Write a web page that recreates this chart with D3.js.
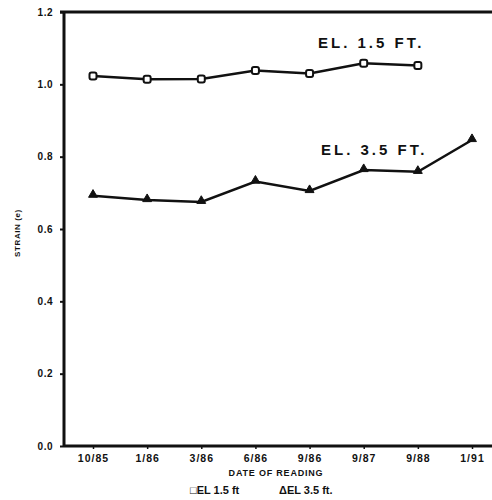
<!DOCTYPE html>
<meta charset="utf-8">
<head>
<title>Strain</title>
<style>
  body { margin: 0; background: #fff; }
  text { font-family: "Liberation Sans", Arial, sans-serif; font-weight: bold; fill: #111; }
</style>
<script src="https://d3js.org/d3.v7.min.js"></script>
</head>
<body>
<div id="chart"></div>
<script>
// dates of reading
var dates = ["10/85", "1/86", "3/86", "6/86", "9/86", "9/87", "9/88", "1/91"];
// strain at elevation 1.5 ft (no reading at 1/91)
var el15 = [1.023, 1.014, 1.015, 1.038, 1.030, 1.058, 1.052];
// strain at elevation 3.5 ft
var el35 = [0.692, 0.680, 0.675, 0.731, 0.705, 0.763, 0.758, 0.846];
var yTicks = [0.0, 0.2, 0.4, 0.6, 0.8, 1.0, 1.2];

var W = 492, H = 500;
var mLeft = 64, mTop = 12, mBottom = 446;

var svg = d3.select("#chart").append("svg")
  .attr("width", W).attr("height", H);

var x = d3.scalePoint().domain(dates).range([93, 472]);
var y = d3.scaleLinear().domain([0, 1.2]).range([mBottom, mTop]);

// y axis
var yAxis = svg.append("g")
  .attr("transform", "translate(" + mLeft + ",0)")
  .call(d3.axisLeft(y).tickValues(yTicks).tickSize(4).tickPadding(7)
    .tickFormat(d3.format(".1f")));
yAxis.select(".domain").remove();
yAxis.selectAll("line").attr("stroke", "#111").attr("stroke-width", 2);
yAxis.selectAll("text").style("font-size", "10px").style("letter-spacing", "0.5px");

// x axis
var xAxis = svg.append("g")
  .attr("transform", "translate(0," + mBottom + ")")
  .call(d3.axisBottom(x).tickSize(3).tickPadding(6));
xAxis.select(".domain").remove();
xAxis.selectAll("line").attr("stroke", "#111").attr("stroke-width", 1.5);
xAxis.selectAll("text").style("font-size", "10.5px").style("letter-spacing", "1px");

// frame lines: left, bottom, top
svg.append("line").attr("x1", mLeft).attr("x2", mLeft).attr("y1", mTop - 1).attr("y2", mBottom + 1)
  .attr("stroke", "#111").attr("stroke-width", 3);
svg.append("line").attr("x1", mLeft).attr("x2", W).attr("y1", mBottom).attr("y2", mBottom)
  .attr("stroke", "#111").attr("stroke-width", 3);
svg.append("line").attr("x1", mLeft - 4).attr("x2", W).attr("y1", mTop).attr("y2", mTop)
  .attr("stroke", "#111").attr("stroke-width", 3);

var line = d3.line()
  .x(function(d, i) { return x(dates[i]); })
  .y(function(d) { return y(d); });

svg.append("path").datum(el15).attr("d", line)
  .attr("fill", "none").attr("stroke", "#111").attr("stroke-width", 2.5);
svg.append("path").datum(el35).attr("d", line)
  .attr("fill", "none").attr("stroke", "#111").attr("stroke-width", 2.5);

// square markers
svg.selectAll("rect.sq").data(el15).enter().append("rect")
  .attr("class", "sq")
  .attr("x", function(d, i) { return x(dates[i]) - 3.5; })
  .attr("y", function(d) { return y(d) - 3.5; })
  .attr("width", 7).attr("height", 7).attr("rx", 2)
  .attr("fill", "#fff").attr("stroke", "#111").attr("stroke-width", 2);

// triangle markers
var tri = d3.symbol().type(d3.symbolTriangle).size(34);
svg.selectAll("path.tri").data(el35).enter().append("path")
  .attr("class", "tri")
  .attr("d", tri)
  .attr("transform", function(d, i) { return "translate(" + x(dates[i]) + "," + (y(d) - 1) + ")"; })
  .attr("fill", "#111").attr("stroke", "#111").attr("stroke-width", 1);

// curve labels
svg.append("text").attr("x", 318).attr("y", 48)
  .style("font-size", "15px").style("letter-spacing", "3px").text("EL. 1.5 FT.");
svg.append("text").attr("x", 321).attr("y", 155)
  .style("font-size", "15px").style("letter-spacing", "3px").text("EL. 3.5 FT.");

// axis titles
svg.append("text")
  .attr("transform", "translate(20,233) rotate(-90)")
  .attr("text-anchor", "middle")
  .style("font-size", "8px").style("letter-spacing", "0.6px").text("STRAIN (e)");
svg.append("text").attr("x", 276).attr("y", 476)
  .attr("text-anchor", "middle")
  .style("font-size", "9px").style("letter-spacing", "0.8px").text("DATE OF READING");

// legend
svg.append("text").attr("x", 190).attr("y", 494)
  .style("font-size", "11px").text("\u25A1EL 1.5 ft");
svg.append("text").attr("x", 279).attr("y", 494)
  .style("font-size", "11px").text("\u0394EL 3.5 ft.");
</script>
</body>
